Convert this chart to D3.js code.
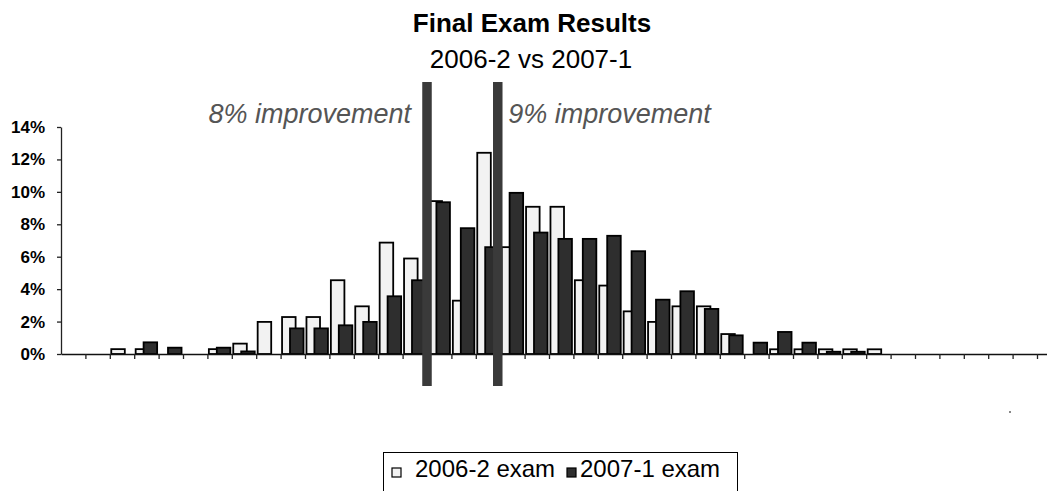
<!DOCTYPE html>
<html>
<head>
<meta charset="utf-8">
<script src="https://cdn.jsdelivr.net/npm/d3@7"></script>
<style>
  body { margin: 0; background: #fff; }
  svg { font-family: "Liberation Sans", Arial, sans-serif; }
</style>
</head>
<body>
<svg id="chart" width="1047" height="491"></svg>
<script>
// score bins (no labels shown on the axis)
var bins = d3.range(1, 42).map(function(d) { return "b" + d; });

// share of students per bin, in %
var exam2006 = [0, 0, 0.3, 0.3, 0, 0, 0.3, 0.64, 1.98, 2.28,
                2.28, 4.55, 2.94, 6.87, 5.89, 9.43, 3.29, 12.41, 6.59, 9.08,
                9.08, 4.55, 4.22, 2.63, 1.98, 2.94, 2.94, 1.23, 0, 0.29,
                0.29, 0.29, 0.29, 0.29, 0, 0, 0, 0, 0, 0, 0];
var exam2007 = [0, 0, 0, 0.72, 0.39, 0, 0.39, 0.16, 0, 1.58,
                1.58, 1.77, 1.98, 3.56, 4.55, 9.36, 7.76, 6.59, 9.94, 7.49,
                7.1, 7.1, 7.29, 6.34, 3.35, 3.87, 2.78, 1.15, 0.7, 1.36,
                0.7, 0.14, 0.14, 0, 0, 0, 0, 0, 0, 0, 0];

var seriesNames = ["2006-2 exam", "2007-1 exam"];
var yTicks = [0, 2, 4, 6, 8, 10, 12, 14];

// improvement markers, positioned in bin units
var markers = [
  { at: 15.0, label: "8% improvement", side: "left" },
  { at: 17.9, label: "9% improvement", side: "right" }
];

var svg = d3.select("#chart"),
    plotLeft = 61,
    bw = 24.4,
    n = bins.length,
    plotTop = 127,
    plotBottom = 354;

var light = "#f2f2f2", dark = "#2e2e2e";

var x = d3.scaleBand().domain(bins).range([plotLeft, plotLeft + n * bw]).padding(0);
var xi = d3.scaleLinear().domain([0, n]).range([plotLeft, plotLeft + n * bw]);
var y = d3.scaleLinear().domain([0, 14]).range([plotBottom, plotTop]);

// titles
svg.append("text")
   .attr("x", 532).attr("y", 32)
   .attr("text-anchor", "middle")
   .attr("font-size", "26px").attr("font-weight", "bold")
   .text("Final Exam Results");
svg.append("text")
   .attr("x", 531).attr("y", 68)
   .attr("text-anchor", "middle")
   .attr("font-size", "26px")
   .text("2006-2 vs 2007-1");

// bars
var barW = bw * 0.555;
var g = svg.append("g");
bins.forEach(function(b, i) {
  [exam2006[i], exam2007[i]].forEach(function(v, s) {
    if (!v) return;
    g.append("rect")
     .attr("x", x(b) + (s == 0 ? bw * 0.06 : bw * 0.385))
     .attr("y", y(v))
     .attr("width", barW)
     .attr("height", plotBottom - y(v))
     .attr("fill", s == 0 ? light : dark)
     .attr("stroke", "#000")
     .attr("stroke-width", 1.8);
  });
});

// axes
var ya = svg.append("g")
   .attr("transform", "translate(" + plotLeft + ",0)")
   .call(d3.axisLeft(y).tickValues(yTicks).tickSize(4).tickSizeOuter(0).tickPadding(12)
          .tickFormat(function(d) { return d + "%"; }));
ya.select(".domain").attr("stroke", "#222").attr("stroke-width", 1.3);
ya.selectAll(".tick line").attr("stroke", "#222").attr("stroke-width", 1.3);
ya.selectAll("text").attr("font-size", "17px").attr("font-weight", "bold")
  .attr("font-family", "Liberation Sans, Arial, sans-serif").attr("fill", "#000");

var xa = svg.append("g")
   .attr("transform", "translate(0," + plotBottom + ")")
   .call(d3.axisBottom(xi).tickValues(d3.range(1, n + 1)).tickSize(5).tickSizeOuter(0).tickFormat(""));
xa.select(".domain").attr("stroke", "#111").attr("stroke-width", 1.5);
xa.selectAll(".tick line").attr("stroke", "#222").attr("stroke-width", 1.3);

// marker lines and labels
markers.forEach(function(m) {
  var cx = xi(m.at);
  svg.append("rect")
     .attr("x", cx - 4.75).attr("y", 82)
     .attr("width", 9.5).attr("height", 304)
     .attr("fill", "#3a3a3a");
  svg.append("text")
     .attr("x", m.side == "left" ? cx - 16 : cx + 10.5)
     .attr("y", 123)
     .attr("text-anchor", m.side == "left" ? "end" : "start")
     .attr("font-size", "27px").attr("font-style", "italic")
     .attr("fill", "#555")
     .text(m.label);
});

// stray dot
svg.append("rect").attr("x", 1009).attr("y", 411).attr("width", 2).attr("height", 2).attr("fill", "#888");

// legend
var lg = svg.append("g");
lg.append("rect")
  .attr("x", 383.5).attr("y", 452.5).attr("width", 354).attr("height", 50)
  .attr("fill", "#fff").attr("stroke", "#000").attr("stroke-width", 1);
var legX = [392, 567];
seriesNames.forEach(function(name, s) {
  lg.append("rect")
    .attr("x", legX[s]).attr("y", 468).attr("width", 9).attr("height", 9)
    .attr("fill", s == 0 ? light : dark).attr("stroke", "#000").attr("stroke-width", 1.2);
  lg.append("text")
    .attr("x", legX[s] + (s == 0 ? 23 : 13)).attr("y", 477)
    .attr("font-size", "24px")
    .text(name);
});
</script>
</body>
</html>
